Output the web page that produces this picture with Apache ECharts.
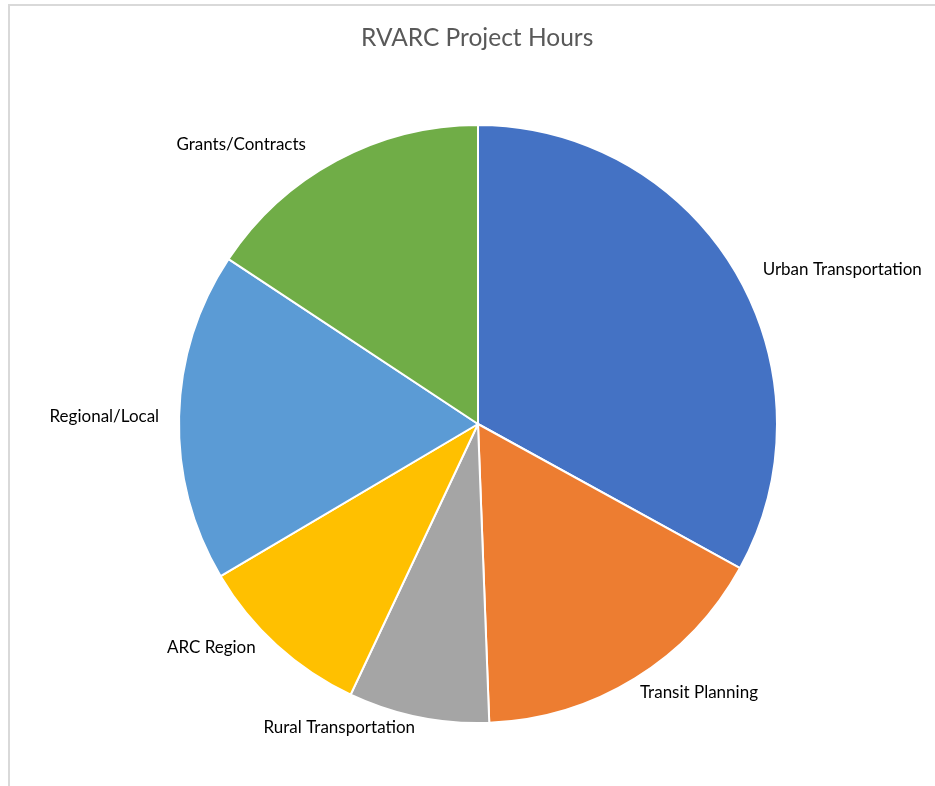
<!DOCTYPE html>
<html>
<head>
<meta charset="utf-8">
<script src="https://cdn.jsdelivr.net/npm/echarts@6/dist/echarts.min.js"></script>
<style>
html,body{margin:0;padding:0;background:#fff;}
#frame{position:absolute;left:8px;top:4px;width:940px;height:800px;border-left:2px solid #d9d9d9;border-top:2px solid #d9d9d9;}
#chart{position:absolute;left:0;top:0;width:935px;height:786px;}
</style>
</head>
<body>
<div id="frame"></div>
<div id="chart"></div>
<script>
const chartTitle = 'RVARC Project Hours';
const categories = ['Urban Transportation','Transit Planning','Rural Transportation','ARC Region','Regional/Local','Grants/Contracts'];
const hours = [33.0, 16.4, 7.6, 9.5, 17.8, 15.7];
const colors = ['#4472C4','#ED7D31','#A5A5A5','#FFC000','#5B9BD5','#70AD47'];
const labelLen = [5, 17, 11, 3, 12, 18];
const labelGap = [18, -9, -4, 14, 3, 17];

const chart = echarts.init(document.getElementById('chart'), null, {renderer:'canvas'});
chart.setOption({
  animation:false,
  title:{text:chartTitle,left:356,top:21,textStyle:{fontFamily:'Lato',fontSize:24.5,fontWeight:'normal',color:'#595959'}},
  series:[{
    type:'pie',
    center:[478,424],
    radius:[0,299],
    startAngle:90,
    clockwise:true,
    avoidLabelOverlap:false,
    itemStyle:{borderColor:'#fff',borderWidth:2},
    label:{show:true,position:'outside',fontFamily:'Lato',fontSize:17,color:'#000',formatter:'{b}'},
    labelLine:{show:false,length:12,length2:18},
    data:categories.map((c,i)=>({name:c,value:hours[i],itemStyle:{color:colors[i]},labelLine:{show:false,length:labelLen[i],length2:labelGap[i]}}))
  }]
});
</script>
</body>
</html>
